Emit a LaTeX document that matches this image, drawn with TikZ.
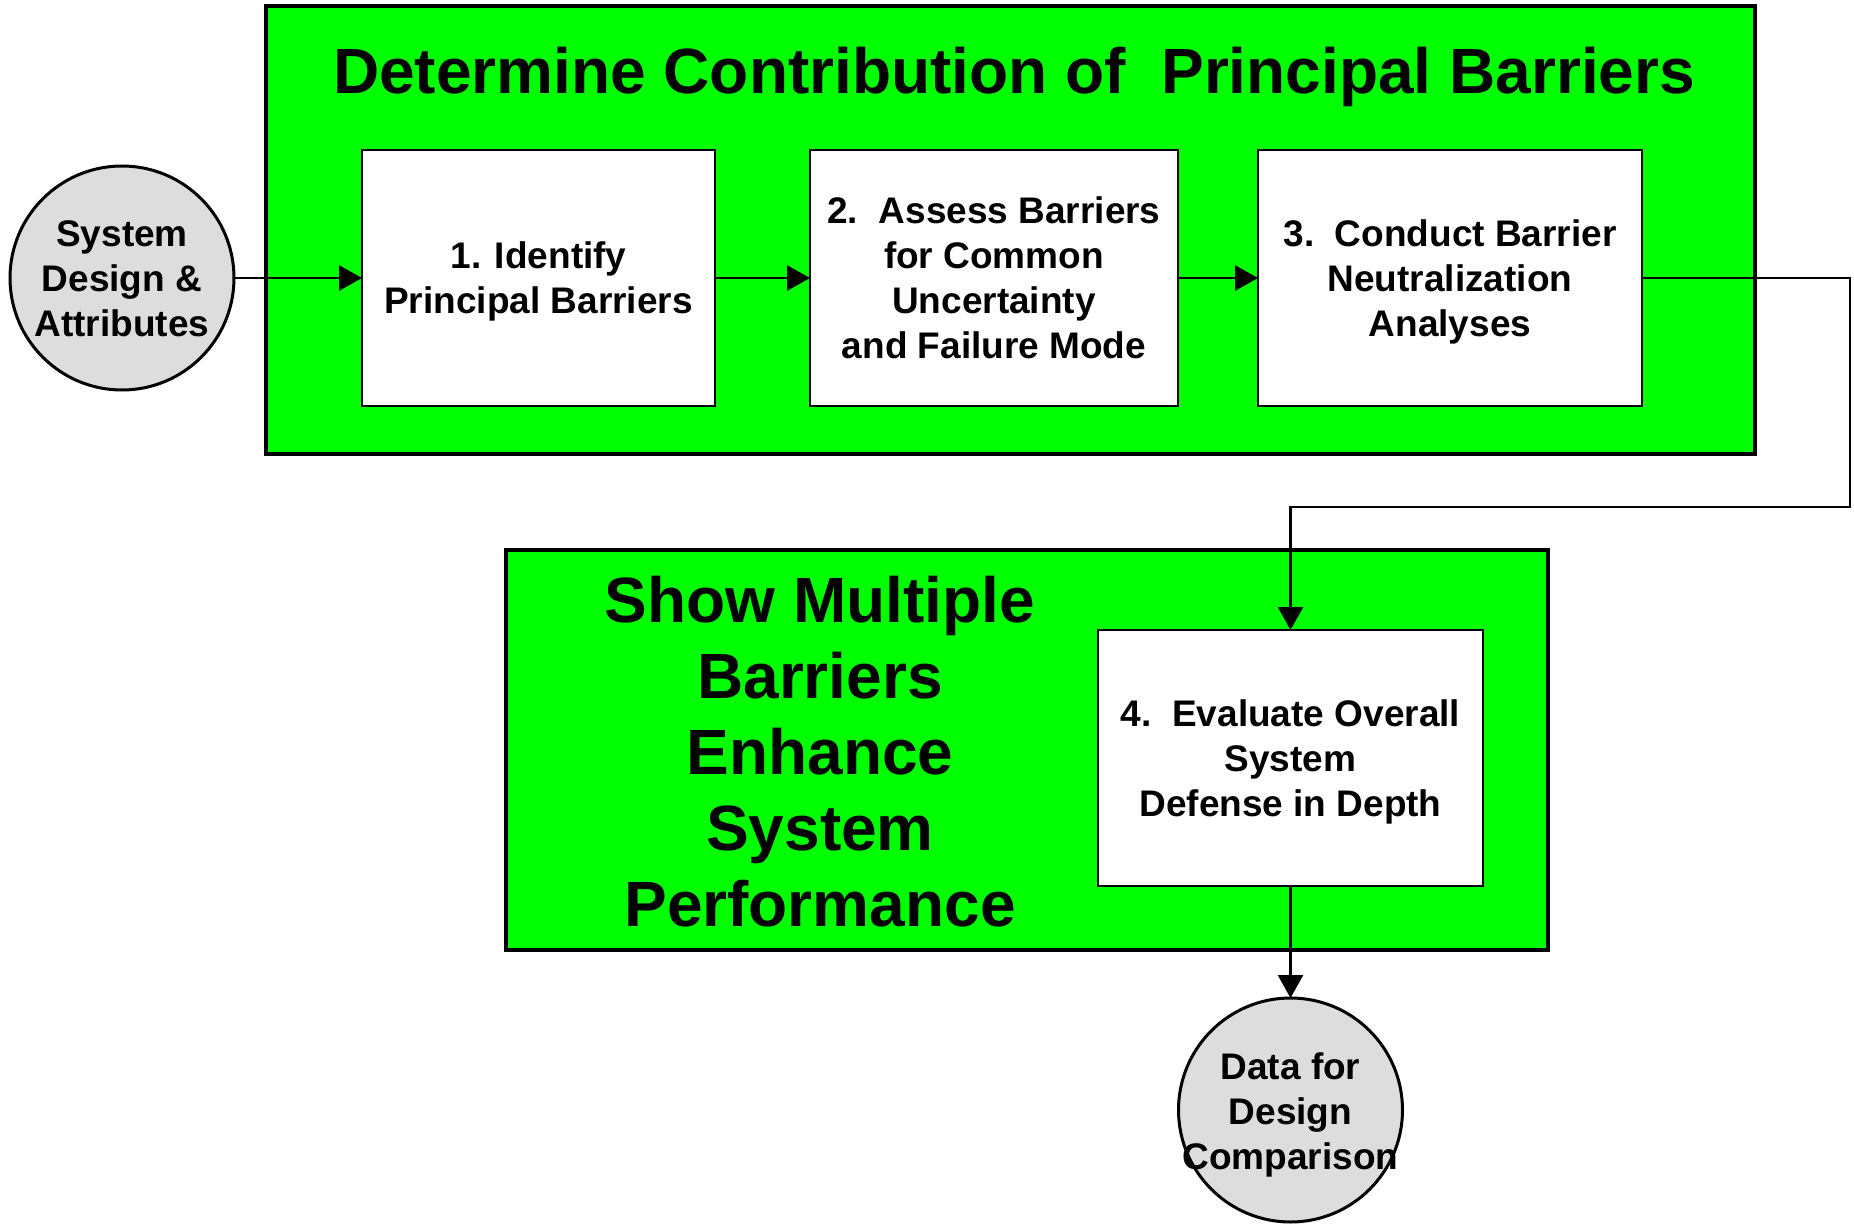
\documentclass[tikz,border=0pt]{standalone}
\usepackage{fontspec}
\setmainfont{Liberation Sans}
\usetikzlibrary{arrows.meta}
\definecolor{panelgreen}{HTML}{00FF00}
\definecolor{discgray}{HTML}{DDDDDD}
\begin{document}
\begin{tikzpicture}[x=0.5pt,y=-0.5pt,
  panel/.style={draw=black, line width=1.75pt, fill=panelgreen, rectangle, inner sep=0pt, outer sep=0pt},
  stepbox/.style={draw=black, line width=1pt, fill=white, rectangle, inner sep=0pt, outer sep=0pt,
    minimum height=128pt, font=\bfseries\fontsize{18.5}{22.5}\selectfont, align=center, text depth=0pt},
  disc/.style={draw=black, line width=1.5pt, fill=discgray, circle, minimum size=112pt,
    inner sep=0pt, outer sep=0pt},
  boxtext/.style={font=\bfseries\fontsize{18.5}{22.5}\selectfont, align=center, inner sep=0pt, text depth=0pt},
  headline/.style={font=\bfseries\fontsize{32}{38}\selectfont, align=center, inner sep=0pt},
  flow/.style={line width=1.25pt, -{Triangle[width=12.5pt,length=11.5pt]}},
]
% page
\fill[white] (0,0) rectangle (1854,1225);
\useasboundingbox (0,0) rectangle (1854,1225);

% green panels
\node[panel, minimum width=744.5pt, minimum height=224pt] (toppanel) at (1010.5,230) {};
\node[panel, minimum width=521pt, minimum height=200pt] (lowpanel) at (1027,750) {};

% panel headings
\node[headline, anchor=base] (toptitle) at (1014,94)
  {Determine Contribution of\ \ Principal Barriers};
\node[headline] (lowtitle) at (820,752)
  {Show Multiple\\Barriers\\Enhance\\System\\Performance};

% steps
\node[stepbox, minimum width=176.5pt] (b1) at (538.5,278)
  {1. Identify\\Principal Barriers};
\node[stepbox, minimum width=184pt] (b2) at (994,278)
  {2.\ \ Assess Barriers\\for Common\\Uncertainty\\and Failure Mode};
\node[stepbox, minimum width=192pt] (b3) at (1450,278)
  {3.\ \ Conduct Barrier\\Neutralization\\Analyses};
\node[stepbox, minimum width=192.5pt] (b4) at (1290.5,758)
  {4.\ \ Evaluate Overall\\System\\Defense in Depth};

% input and output discs (labels may run past the outline)
\node[disc] (c1) at (122,278) {};
\node[boxtext] (c1text) at (122,279) {System\\Design \&\\Attributes};
\node[disc] (c2) at (1290.5,1110) {};
\node[boxtext] (c2text) at (1290.5,1111) {Data for\\Design\\Comparison};

% connectors
\coordinate (bendA) at (1850,278);
\coordinate (bendB) at (1850,507);
\draw[flow] (c1) -- (b1);
\draw[flow] (b1) -- (b2);
\draw[flow] (b2) -- (b3);
\draw[flow] (b3.east) -- (bendA) -- (bendB) -| (b4.north);
\draw[flow] (b4) -- (c2);
\end{tikzpicture}
\end{document}
